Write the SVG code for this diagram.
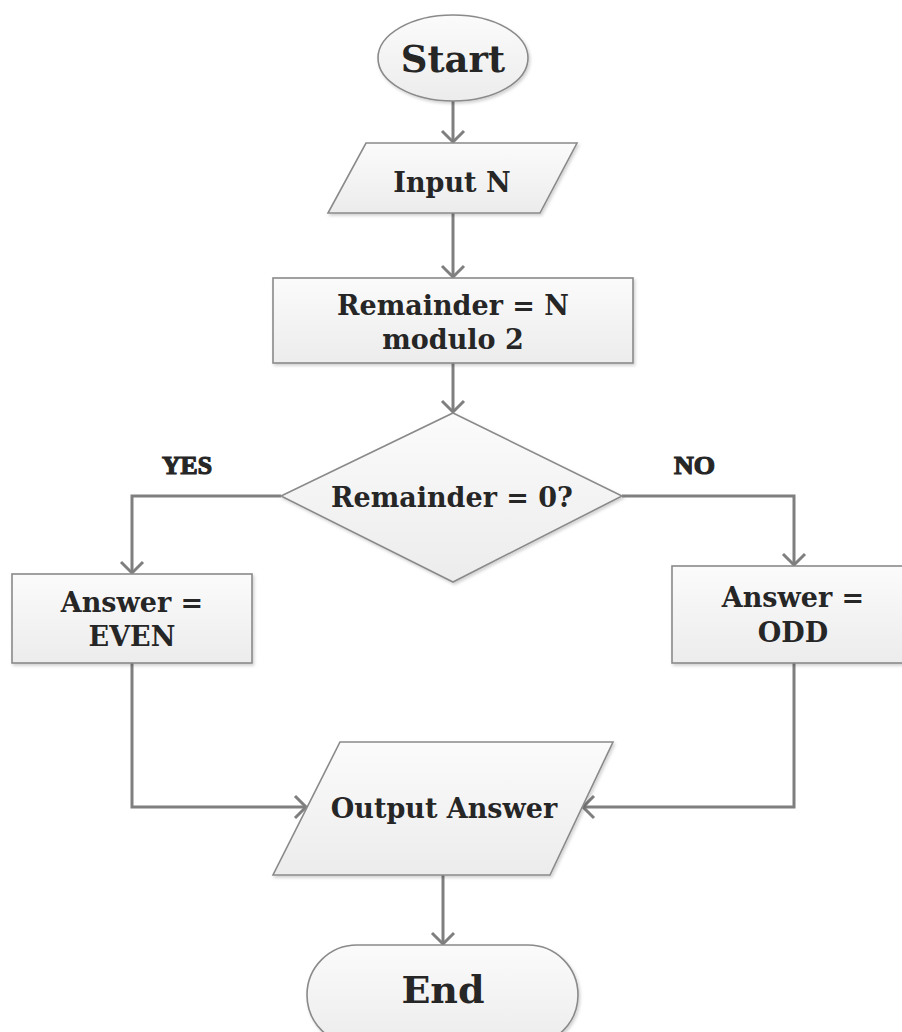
<svg xmlns="http://www.w3.org/2000/svg" width="902" height="1032" viewBox="0 0 902 1032">
<style>
.shape{fill:url(#g);stroke:#8a8a8a;stroke-width:1.6;filter:url(#sh)}
.t{font-family:"DejaVu Serif","Liberation Serif",serif;font-weight:bold;fill:#262626;text-anchor:middle}
.lbl{font-family:"Liberation Serif","DejaVu Serif",serif;font-weight:bold;fill:#262626;stroke:#262626;stroke-width:1.2;font-size:25px}
.c{fill:none;stroke:#7f7f7f;stroke-width:3;marker-end:url(#arr)}
</style>
<defs>
<linearGradient id="g" x1="0" y1="0" x2="0" y2="1">
<stop offset="0" stop-color="#fbfbfb"/>
<stop offset="1" stop-color="#ececec"/>
</linearGradient>
<filter id="sh" x="-10%" y="-10%" width="120%" height="130%">
<feDropShadow dx="1.5" dy="2" stdDeviation="1.5" flood-color="#000" flood-opacity="0.18"/>
</filter>
<marker id="arr" viewBox="-14 -14 28 28" markerWidth="28" markerHeight="28" refX="0" refY="0" orient="auto" markerUnits="userSpaceOnUse">
<path d="M-11,-11 L0,0 L-11,11" fill="none" stroke="#7f7f7f" stroke-width="3"/>
</marker>
</defs>
<rect width="902" height="1032" fill="#fff"/>
<g id="connectors">
<path class="c" d="M453,101 L453,142"/>
<path class="c" d="M453,213 L453,277"/>
<path class="c" d="M453,363 L453,412"/>
<path class="c" d="M281,496 L132,496 L132,573"/>
<path class="c" d="M622,496 L794,496 L794,565"/>
<path class="c" d="M132,663 L132,807 L306,807"/>
<path class="c" d="M794,663 L794,807 L583,807"/>
<path class="c" d="M443,875 L443,944"/>
</g>
<g id="start">
<ellipse class="shape" cx="453" cy="58" rx="75" ry="43"/>
<text class="t" x="453" y="72" font-size="37">Start</text>
</g>
<g id="input">
<polygon class="shape" points="366,143 577,143 540,213 328,213"/>
<text class="t" x="452" y="192" font-size="27">Input N</text>
</g>
<g id="remainder">
<rect class="shape" x="273" y="278" width="360" height="85"/>
<text class="t" x="453" y="315" font-size="27">Remainder = N</text>
<text class="t" x="453" y="349" font-size="27">modulo 2</text>
</g>
<g id="decision">
<polygon class="shape" points="453,413 622,496 453,582 281,496"/>
<text class="t" x="452" y="507" font-size="27">Remainder = 0?</text>
</g>
<g id="yes-label"><text class="lbl" x="162" y="474" textLength="50" lengthAdjust="spacingAndGlyphs">YES</text></g>
<g id="no-label"><text class="lbl" x="674" y="474" textLength="41" lengthAdjust="spacingAndGlyphs">NO</text></g>
<g id="even">
<rect class="shape" x="12" y="574" width="240" height="89"/>
<text class="t" x="132" y="612" font-size="27">Answer =</text>
<text class="t" x="132" y="646" font-size="27">EVEN</text>
</g>
<g id="odd">
<rect class="shape" x="672" y="566" width="240" height="97"/>
<text class="t" x="793" y="607" font-size="27">Answer =</text>
<text class="t" x="793" y="642" font-size="27">ODD</text>
</g>
<g id="output">
<polygon class="shape" points="340,742 613,742 550,875 273,875"/>
<text class="t" x="444" y="818" font-size="27">Output Answer</text>
</g>
<g id="end">
<rect class="shape" x="307" y="945" width="271" height="100" rx="50" ry="50"/>
<text class="t" x="443" y="1003" font-size="38">End</text>
</g>
</svg>
